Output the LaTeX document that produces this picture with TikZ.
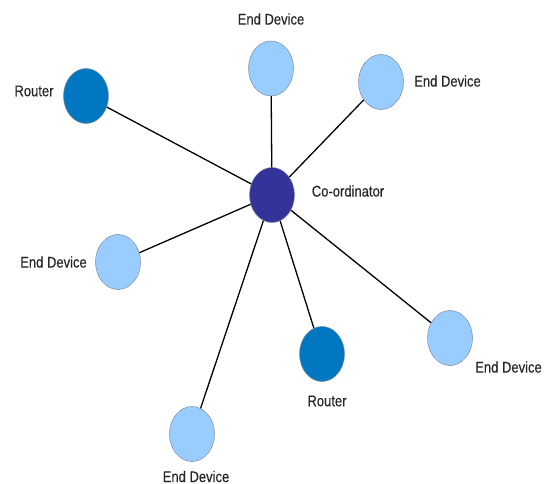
\documentclass[tikz,border=0pt]{standalone}
\usepackage{fontspec}
\newfontfamily\lblfont{Liberation Sans}[FakeStretch=0.84,FakeBold=0.3]
\usetikzlibrary{shapes.geometric}
\definecolor{enddev}{HTML}{99CCFF}
\definecolor{routercol}{HTML}{0077C0}
\definecolor{coordcol}{HTML}{333399}
\definecolor{rimcol}{HTML}{7A8A9A}
\tikzset{
  dev/.style={ellipse, inner sep=0pt, minimum width=45pt, minimum height=55pt, draw=rimcol, line width=0.5pt},
  enddevice/.style={dev, fill=enddev},
  routernode/.style={dev, fill=routercol},
  coordnode/.style={dev, fill=coordcol},
  lbl/.style={font=\lblfont\fontsize{15.5}{18}\selectfont, inner sep=0pt, text=black!85},
  link/.style={draw=black, line width=1.3pt}
}
\begin{document}
\begin{tikzpicture}[x=1pt,y=-1pt]
\useasboundingbox (0,0) rectangle (551,484);
\node[coordnode] (c) at (272,195) {};
\node[routernode] (r1) at (86,96) {};
\node[routernode] (r2) at (322,354) {};
\node[enddevice] (e1) at (271,68.5) {};
\node[enddevice] (e2) at (381,82) {};
\node[enddevice] (e3) at (118,262) {};
\node[enddevice] (e4) at (450,338) {};
\node[enddevice] (e5) at (192,434) {};
\foreach \n in {r1,r2,e1,e2,e3,e4,e5} \draw[link] (c) -- (\n);
\node[lbl] (t1) at (271,19) {End Device};
\node[lbl] (t2) at (447.5,81) {End Device};
\node[lbl] (t3) at (53.5,262) {End Device};
\node[lbl] (t4) at (508.5,367) {End Device};
\node[lbl] (t5) at (196,476.5) {End Device};
\node[lbl] (t6) at (34,91) {Router};
\node[lbl] (t7) at (327,401) {Router};
\node[lbl] (t8) at (348,191) {Co-ordinator};
\end{tikzpicture}
\end{document}
